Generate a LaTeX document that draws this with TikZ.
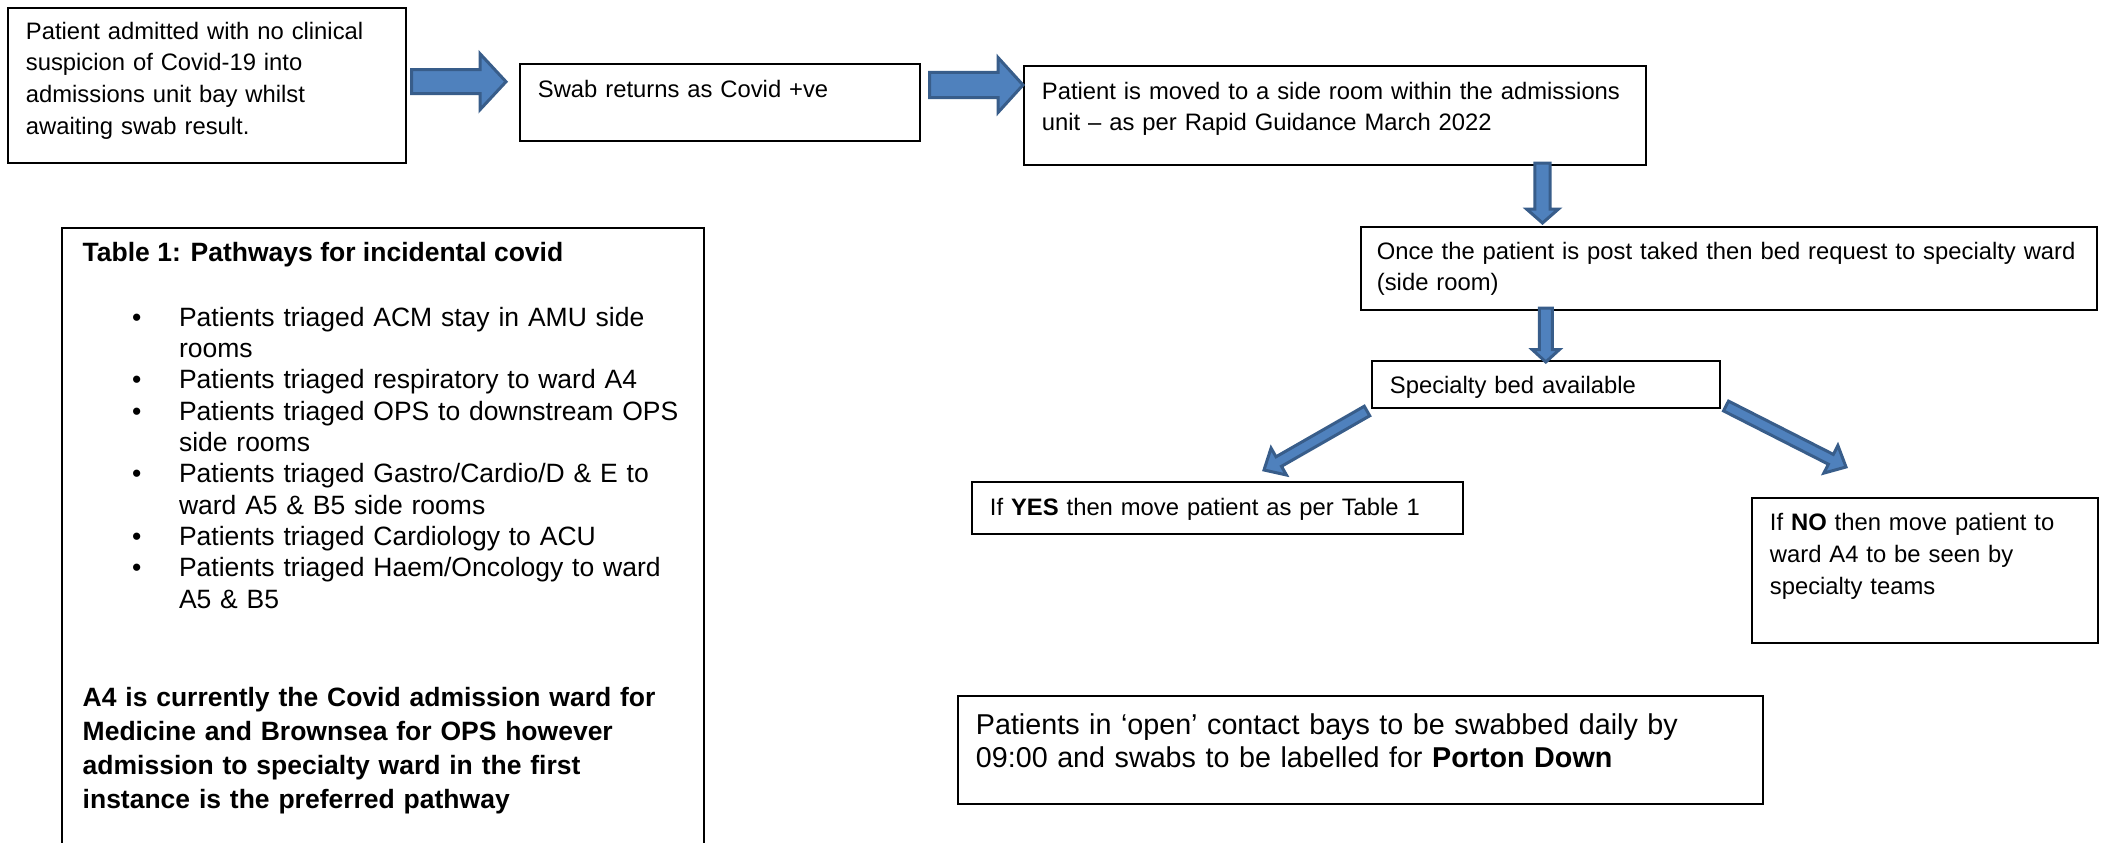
\documentclass[tikz,border=0pt]{standalone}
\usepackage{fontspec}
\setmainfont{Liberation Sans}
\usetikzlibrary{calc}
\usepackage{xcolor}

\definecolor{arrowfill}{RGB}{79,129,189}
\definecolor{arrowline}{RGB}{56,93,138}

\newcommand{\boxfont}{\fontsize{23.8}{31.7}\selectfont}
\newcommand{\tabfont}{\fontsize{26.5}{31.4}\selectfont}
\newcommand{\notefont}{\fontsize{26.5}{34.3}\selectfont\bfseries}
\newcommand{\swabfont}{\fontsize{28.7}{33.3}\selectfont}

\tikzset{
  box/.style={draw, line width=1.8pt, anchor=north west, align=left,
    inner xsep=18pt, inner ysep=0pt, font=\boxfont},
  tabtext/.style={anchor=base west, align=left, inner sep=0pt, font=\tabfont},
  blockarrow/.style={fill=arrowfill, draw=arrowline, line width=3pt, line join=miter}
}

% block arrow from #1 to #2: shaft half width, head half width, head length
\newcommand{\bluearrow}[5]{%
  \coordinate (#1h) at ($(#2)!#5!(#1)$);
  \filldraw[blockarrow] ($(#1)!#3!90:(#2)$) -- ($(#1h)!#3!90:(#2)$)
    -- ($(#1h)!#4!90:(#2)$) -- (#2) -- ($(#1h)!#4!-90:(#2)$)
    -- ($(#1h)!#3!-90:(#2)$) -- ($(#1)!#3!-90:(#2)$) -- cycle;
}

\begin{document}
\begin{tikzpicture}[x=1pt,y=-1pt]

        \path[use as bounding box, clip] (0,0) rectangle (2101,843);

        % Flow boxes
        \node[box, text width=362pt, text height=31.3pt, text depth=123.7pt] (admit) at (7,7)
          {Patient admitted with no clinical\\suspicion of Covid-19 into\\admissions unit bay whilst\\awaiting swab result.};
        \node[box, text width=364pt, text height=33.7pt, text depth=43.3pt] (swab) at (519,63)
          {Swab returns as Covid +ve};
        \node[box, text width=586pt, text height=33.3pt, text depth=65.7pt] (sideroom) at (1023,65)
          {Patient is moved to a side room within the admissions\\unit -- as per Rapid Guidance March 2022};
        \node[box, inner xsep=16pt, text width=704pt, text height=32.3pt, text depth=50.7pt] (request) at (1360,226)
          {Once the patient is post taked then bed request to specialty ward\\(side room)};
        \node[box, text width=312pt, text height=32.7pt, text depth=14.3pt] (avail) at (1371,360)
          {Specialty bed available};
        \node[box, text width=455pt, text height=34pt, text depth=18pt] (yes) at (971,481)
          {If \textbf{YES} then move patient as per Table 1};
        \node[box, text width=310pt, text height=33pt, text depth=112pt] (no) at (1751,497)
          {If \textbf{NO} then move patient to\\ward A4 to be seen by\\specialty teams};

        % Porton Down note
        \node[box, font=\swabfont, text width=769pt, text height=38.3pt, text depth=69.7pt] (porton) at (957,695)
          {Patients in `open' contact bays to be swabbed daily by\\09:00 and swabs to be labelled for \textbf{Porton Down}};

        % Table 1
        \node[box, minimum width=642pt, minimum height=630pt] (table) at (61,227) {};
        \node[tabtext, font=\tabfont\bfseries] (tabtitle) at ($(table.north west)+(21.5,34.7)$)
          {Table 1: Pathways for incidental covid};
        \foreach \k/\txt in {0/{Patients triaged ACM stay in AMU side\\rooms},
                             2/{Patients triaged respiratory to ward A4},
                             3/{Patients triaged OPS to downstream OPS\\side rooms},
                             5/{Patients triaged Gastro/Cardio/D \& E to\\ward A5 \& B5 side rooms},
                             7/{Patients triaged Cardiology to ACU},
                             8/{Patients triaged Haem/Oncology to ward\\A5 \& B5}}
        {
          \node[tabtext, anchor=base] (dot\k) at ($(table.north west)+(75.7,99+31.37*\k)$) {\textbullet};
          \node[tabtext, text width=520pt] (item\k) at ($(table.north west)+(117.8,99+31.37*\k)$) {\txt};
        }
        \node[tabtext, font=\notefont, text width=600pt] (tabnote) at ($(table.north west)+(21.5,479)$)
          {A4 is currently the Covid admission ward for\\Medicine and Brownsea for OPS however\\admission to specialty ward in the first\\instance is the preferred pathway};

        % Block arrows
        \coordinate (arr1s) at (411.5,81.7);
        \coordinate (arr1e) at (506,81.7);
        \coordinate (arr2s) at (929.5,85);
        \coordinate (arr2e) at (1023,85);
        \coordinate (arr3s) at (1542.5,163);
        \coordinate (arr3e) at (1542.5,223);
        \coordinate (arr4s) at (1545.8,308);
        \coordinate (arr4e) at (1545.8,362);
        \coordinate (arr5s) at (1367,411);
        \coordinate (arr5e) at (1264,470);
        \coordinate (arr6s) at (1726,406);
        \coordinate (arr6e) at (1846,467);

        \bluearrow{arr1s}{arr1e}{12pt}{28pt}{26pt}
        \bluearrow{arr2s}{arr2e}{12.5pt}{27.5pt}{25pt}
        \bluearrow{arr3s}{arr3e}{7.7pt}{16pt}{14pt}
        \bluearrow{arr4s}{arr4e}{6.5pt}{13.7pt}{12.5pt}
        \bluearrow{arr5s}{arr5e}{5.5pt}{15.5pt}{17pt}
        \bluearrow{arr6s}{arr6e}{5.5pt}{15.5pt}{17pt}

\end{tikzpicture}
\end{document}
